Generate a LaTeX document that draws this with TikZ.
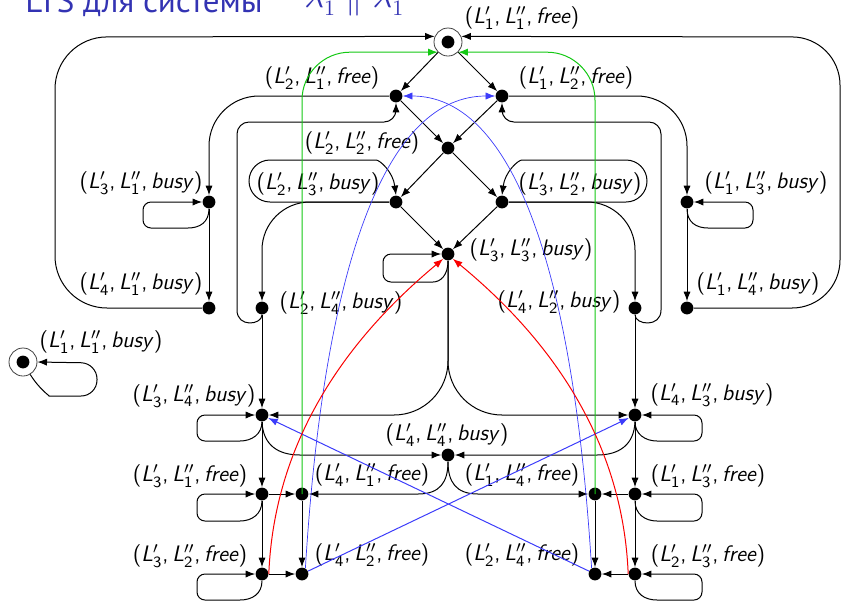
\documentclass[tikz,border=0pt]{standalone}
\usepackage{fontspec}
\newfontfamily\titlefont{PT Sans}
\usetikzlibrary{arrows.meta}
\definecolor{structblue}{RGB}{51,51,179}
\definecolor{gr}{RGB}{20,200,20}
\definecolor{bl}{RGB}{60,60,250}
\definecolor{rd}{RGB}{250,0,0}
% state label (L'_a, L''_b, w)
\newcommand{\st}[3]{\textsf{(\textit{L}$'_{\mathsf{#1}}$,\,\textit{L}$''_{\mathsf{#2}}$,\,\textit{#3})}}
\begin{document}
\begin{tikzpicture}[x=0.5pt,y=-0.5pt,
  dot/.style={circle,fill=black,inner sep=0pt,minimum size=6.4pt},
  init/.style={circle,draw=black!75,line width=0.4pt,inner sep=0pt,minimum size=14pt},
  lbl/.style={inner sep=0pt,font=\fontsize{11.2}{13}\selectfont},
  ttl/.style={anchor=base west,text=structblue,inner sep=0pt},
  tr/.style={-{Latex[length=4.8pt,width=3.6pt]},line width=0.5pt},
  thinblue/.style={tr,draw=bl,line width=0.35pt}]
\useasboundingbox (0,0) rectangle (842,602);

% title
\node[ttl,font=\titlefont\fontsize{16.5}{18}\selectfont] (ttl) at (25,12) {LTS для системы};
\node[ttl,font=\fontsize{16}{18}\selectfont] (ttm) at (304,7) {$\lambda'_1 \parallel \lambda''_1$};

% states
\node[init] (A) at (448,42) {};
\fill (A.center) circle (3.2pt);
\node[dot] (B) at (396,96) {};
\node[dot] (C) at (502,96) {};
\node[dot] (D) at (448,148) {};
\node[dot] (E) at (396,202) {};
\node[dot] (F) at (502,202) {};
\node[dot] (G) at (448,254) {};
\node[dot] (H) at (209,202) {};
\node[dot] (I) at (209,308) {};
\node[dot] (J) at (262,308) {};
\node[dot] (K) at (687,202) {};
\node[dot] (Lq) at (687,308) {};
\node[dot] (M) at (635,308) {};
\node[init] (N) at (23,362) {};
\fill (N.center) circle (3.2pt);
\node[dot] (O) at (262,415) {};
\node[dot] (P) at (635,415) {};
\node[dot] (Q) at (448,455) {};
\node[dot] (R) at (262,494) {};
\node[dot] (S) at (302,494) {};
\node[dot] (T) at (595,494) {};
\node[dot] (U) at (635,494) {};
\node[dot] (V) at (262,574) {};
\node[dot] (W) at (302,574) {};
\node[dot] (X) at (595,574) {};
\node[dot] (Y) at (635,574) {};

% labels
\node[lbl] (lA) at (522,18) {\st{1}{1}{free}};
\node[lbl] (lB) at (322,78) {\st{2}{1}{free}};
\node[lbl] (lC) at (576,78) {\st{1}{2}{free}};
\node[lbl] (lD) at (362,143) {\st{2}{2}{free}};
\node[lbl] (lE) at (318,184) {\st{2}{3}{busy}};
\node[lbl] (lF) at (580,184) {\st{3}{2}{busy}};
\node[lbl] (lG) at (531,250) {\st{3}{3}{busy}};
\node[lbl] (lH) at (141,183) {\st{3}{1}{busy}};
\node[lbl] (lI) at (141,284) {\st{4}{1}{busy}};
\node[lbl] (lJ) at (341,303) {\st{2}{4}{busy}};
\node[lbl] (lK) at (766,183) {\st{1}{3}{busy}};
\node[lbl] (lL) at (758,284) {\st{1}{4}{busy}};
\node[lbl] (lM) at (559,302) {\st{4}{2}{busy}};
\node[lbl] (lN) at (101,342) {\st{1}{1}{busy}};
\node[lbl] (lO) at (194,396) {\st{3}{4}{busy}};
\node[lbl] (lP) at (712,395) {\st{4}{3}{busy}};
\node[lbl] (lQ) at (447,435) {\st{4}{4}{busy}};
\node[lbl] (lR) at (190,476) {\st{3}{1}{free}};
\node[lbl] (lS) at (372,475) {\st{4}{1}{free}};
\node[lbl] (lT) at (522,475) {\st{1}{4}{free}};
\node[lbl] (lU) at (708,476) {\st{1}{3}{free}};
\node[lbl] (lV) at (190,556) {\st{3}{2}{free}};
\node[lbl] (lW) at (372,555) {\st{4}{2}{free}};
\node[lbl] (lX) at (522,555) {\st{2}{4}{free}};
\node[lbl] (lY) at (708,556) {\st{2}{3}{free}};

% diamond in the middle
\draw[tr] (A) -- (B);
\draw[tr] (A) -- (C);
\draw[tr] (B) -- (D);
\draw[tr] (C) -- (D);
\draw[tr] (D) -- (E);
\draw[tr] (D) -- (F);
\draw[tr] (E) -- (G);
\draw[tr] (F) -- (G);

% straight steps
\draw[tr] (H) -- (I);
\draw[tr] (K) -- (Lq);
\draw[tr] (J) -- (O);
\draw[tr] (M) -- (P);
\draw[tr] (O) -- (R);
\draw[tr] (R) -- (V);
\draw[tr] (S) -- (W);
\draw[tr] (P) -- (U);
\draw[tr] (U) -- (Y);
\draw[tr] (T) -- (X);
\draw[tr] (R) -- (S);
\draw[tr] (V) -- (W);
\draw[tr] (U) -- (T);
\draw[tr] (Y) -- (X);

% outer returns to the initial state
\draw[tr,rounded corners=26pt] (I) -- (55,308) -- (55,37) -- (A.157);
\draw[tr,rounded corners=24pt] (Lq) -- (840,308) -- (840,37) -- (A.23);

% side branches
\draw[tr,rounded corners=25pt] (B) -- (209,96) -- (H);
\draw[tr,rounded corners=25pt] (C) -- (687,96) -- (K);
\draw[tr] (J.south) .. controls (262,325) and (237,328) .. (237,310) [rounded corners=6pt] -- (237,122) -- (396,122) -- (B.south);
\draw[tr] (M.south) .. controls (635,325) and (661,328) .. (661,310) [rounded corners=6pt] -- (661,122) -- (502,122) -- (C.south);
\draw[tr,rounded corners=24pt] (E) -- (262,202) -- (J);
\draw[tr,rounded corners=24pt] (F) -- (635,202) -- (M);

% loops round the labels of E and F
\draw[tr] (E.west) [rounded corners=10.5pt] -- (249,202) -- (249,160) -- (355,160) [sharp corners] .. controls (380,160) and (393,172) .. (E.north);
\draw[tr] (F.east) [rounded corners=10.5pt] -- (647,202) -- (647,160) -- (543,160) [sharp corners] .. controls (518,160) and (505,172) .. (F.north);

% G and its exits
\draw[tr,rounded corners=4pt] (G.south) .. controls (448,276) and (440,282) .. (425,282) -- (383,282) -- (383,254) -- (G.west);
\draw[tr,rounded corners=27pt] (G) -- (448,415) -- (O);
\draw[tr,rounded corners=27pt] (G) -- (448,415) -- (P);

% self loops
\draw[tr,rounded corners=4pt] (H.south) .. controls (209,222) and (200,228) .. (180,228) -- (143,228) -- (143,202) -- (H.west);
\draw[tr,rounded corners=4pt] (K.south) .. controls (687,222) and (696,228) .. (716,228) -- (753,228) -- (753,202) -- (K.east);
\draw[tr,rounded corners=8pt] (N.-60) .. controls (40,390) and (50,396) .. (65,396) -- (97,396) -- (97,363) -- (N.east);
\draw[tr,rounded corners=4pt] (O.south) .. controls (262,434) and (252,441) .. (232,441) -- (197,441) -- (197,415) -- (O.west);
\draw[tr,rounded corners=4pt] (P.south) .. controls (635,434) and (645,441) .. (665,441) -- (702,441) -- (702,415) -- (P.east);
\draw[tr,rounded corners=4pt] (R.south) .. controls (262,514) and (252,521) .. (232,521) -- (197,521) -- (197,494) -- (R.west);
\draw[tr,rounded corners=4pt] (V.south) .. controls (262,594) and (252,600) .. (232,600) -- (197,600) -- (197,574) -- (V.west);
\draw[tr,rounded corners=4pt] (U.south) .. controls (635,514) and (645,521) .. (665,521) -- (702,521) -- (702,494) -- (U.east);
\draw[tr,rounded corners=4pt] (Y.south) .. controls (635,594) and (645,600) .. (665,600) -- (702,600) -- (702,574) -- (Y.east);

% through Q
\draw[tr] (O.south) .. controls (263,445) and (278,455) .. (300,455) -- (Q);
\draw[tr] (P.south) .. controls (634,445) and (619,455) .. (597,455) -- (Q);
\draw[tr] (Q.south) .. controls (448,482) and (440,494) .. (418,494) -- (S);
\draw[tr] (Q.south) .. controls (448,482) and (456,494) .. (478,494) -- (T);

% coloured transitions
\draw[tr,draw=gr,rounded corners=24pt] (S.center) |- (A.south west);
\draw[tr,draw=gr,rounded corners=24pt] (T.center) |- (A.south east);
\draw[tr,draw=bl] (W) -- (P);
\draw[tr,draw=bl] (X) -- (O);
\draw[thinblue] (W.60) .. controls (325,250) and (390,96) .. (C.west);
\draw[thinblue] (X.120) .. controls (572,250) and (507,96) .. (B.east);
\draw[tr,draw=rd] (V.east) .. controls (275,420) and (370,320) .. (G.-135);
\draw[tr,draw=rd] (Y.west) .. controls (622,420) and (527,320) .. (G.-45);
\end{tikzpicture}
\end{document}
